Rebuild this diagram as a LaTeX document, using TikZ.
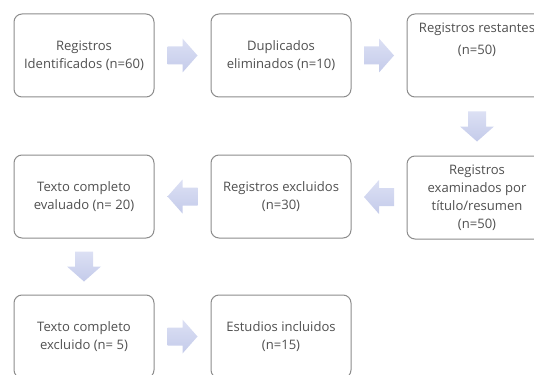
\documentclass[tikz,border=0pt]{standalone}
\usepackage{fontspec}
\setmainfont{Open Sans}
\usetikzlibrary{calc}
\definecolor{boxline}{HTML}{8C8C8C}
\definecolor{boxtext}{HTML}{505050}
\definecolor{arrowtop}{HTML}{DCE0F4}
\definecolor{arrowbot}{HTML}{C4CBEA}
\tikzset{
	box/.style={draw=boxline, line width=0.75pt, fill=white, rounded corners=6pt, minimum width=105pt, minimum height=62.25pt, text=boxtext, align=center, inner sep=2pt, font=\fontsize{9.8}{13.5}\selectfont},
	boxlabel/.style={text=boxtext, align=center, inner sep=0pt, font=\fontsize{9.8}{16.5}\selectfont},
	blockarrow/.pic={
		\shade[top color=arrowtop, bottom color=arrowbot] (-15,-9) -- (0,-9) -- (0,-17) -- (15,0) -- (0,17) -- (0,9) -- (-15,9) -- cycle;
	}
}
\begin{document}
\begin{tikzpicture}[x=0.75pt, y=-0.75pt]
	\clip (0,0) rectangle (534,374);
	\node[box] (ident) at (84,55.5) {Registros\\Identificados (n=60)};
	\node[box] (dupl) at (281,55.5) {Duplicados\\eliminados (n=10)};
	\node[box] (rest) at (477,55.5) {};
	\node[boxlabel, anchor=north] (restlabel) at (477,23) {Registros restantes\\(n=50)};

	\node[box] (eval) at (84,196.5) {Texto completo\\evaluado (n= 20)};
	\node[box] (excl) at (281,196.5) {Registros excluidos\\(n=30)};
	\node[box] (exam) at (477,197.5) {Registros\\examinados por\\título/resumen\\(n=50)};

	\node[box] (textexcl) at (84,336.5) {Texto completo\\excluido (n= 5)};
	\node[box] (incl) at (281,336.5) {Estudios incluidos\\(n=15)};

	\pic at ($(ident.east)!0.5!(dupl.west)$) {blockarrow};
	\pic at ($(dupl.east)!0.5!(rest.west)$) {blockarrow};
	\pic[rotate=-90] at ($(rest.south)!0.5!(exam.north)$) {blockarrow};
	\pic[rotate=180] at ($(exam.west)!0.5!(excl.east)$) {blockarrow};
	\pic[rotate=180] at ($(excl.west)!0.5!(eval.east)$) {blockarrow};
	\pic[rotate=-90] at ($(eval.south)!0.5!(textexcl.north)$) {blockarrow};
	\pic at ($(textexcl.east)!0.5!(incl.west)$) {blockarrow};
\end{tikzpicture}
\end{document}
